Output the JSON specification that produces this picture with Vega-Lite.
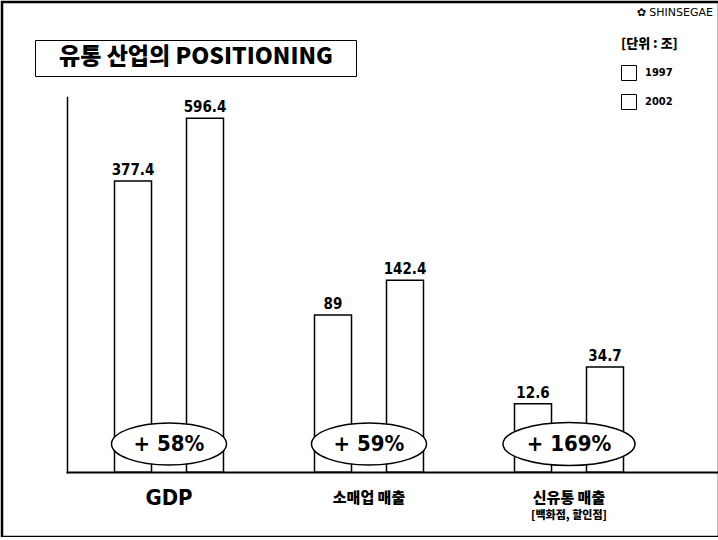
{
  "$schema": "https://vega.github.io/schema/vega-lite/v6.json",
  "autosize": "none",
  "padding": {"left": 2, "top": 2, "right": 0, "bottom": 0},
  "width": 717,
  "height": 535,
  "background": "white",
  "title": {
    "text": "✿ SHINSEGAE",
    "anchor": "end",
    "frame": "group",
    "orient": "top",
    "offset": 0,
    "baseline": "middle",
    "dy": 22,
    "dx": -6,
    "font": "DejaVu Sans",
    "fontSize": 11,
    "fontWeight": "normal",
    "color": "black"
  },
  "datasets": {
    "bars": [
      {"cat": "GDP", "year": "1997", "value": 377.4},
      {"cat": "GDP", "year": "2002", "value": 596.4},
      {"cat": "소매업 매출", "year": "1997", "value": 89},
      {"cat": "소매업 매출", "year": "2002", "value": 142.4},
      {"cat": "신유통 매출", "year": "1997", "value": 12.6},
      {"cat": "신유통 매출", "year": "2002", "value": 34.7}
    ],
    "growth": [
      {"cat": "GDP", "label": "+ 58%"},
      {"cat": "소매업 매출", "label": "+ 59%"},
      {"cat": "신유통 매출", "label": "+ 169%"}
    ],
    "note": [
      {"cat": "신유통 매출", "text": "[백화점, 할인점]"}
    ]
  },
  "layer": [
    {
      "data": {"name": "bars"},
      "mark": {"type": "bar", "stroke": "black", "strokeWidth": 1.5},
      "encoding": {
        "x": {
          "field": "cat", "type": "nominal", "title": null,
          "scale": {"domain": ["GDP", "소매업 매출", "신유통 매출"], "range": [65, 715], "paddingInner": 0, "paddingOuter": 0.125, "align": 0.04},
          "axis": {
            "orient": "bottom", "offset": -65, "domainColor": "black", "domainWidth": 2, "ticks": false, "grid": false,
            "labelAngle": 0, "labelColor": "black", "labelBaseline": "middle", "labelPadding": 25,
            "labelFont": {"condition": {"test": "datum.value === 'GDP'", "value": "DejaVu Sans Condensed, DejaVu Sans, sans-serif"}, "value": "Noto Sans CJK KR"},
            "labelFontSize": {"condition": {"test": "datum.value === 'GDP'", "value": 22}, "value": 15},
            "labelFontWeight": {"condition": {"test": "datum.value === 'GDP'", "value": "bold"}, "value": 900}
          }
        },
        "xOffset": {"field": "year", "type": "nominal", "scale": {"paddingInner": 0.486, "paddingOuter": 0.632}},
        "y": {
          "field": "value", "type": "quantitative", "title": null,
          "scale": {"type": "pow", "exponent": 0.427, "domain": [0, 684], "range": [470, 95], "nice": false, "zero": true},
          "axis": {"orient": "left", "offset": -65, "domainColor": "black", "domainWidth": 1.5, "ticks": false, "labels": false, "grid": false}
        },
        "color": {
          "field": "year", "type": "nominal",
          "scale": {"range": ["white", "white"]},
          "legend": {
            "title": "[단위 : 조]", "orient": "none", "legendX": 619, "legendY": 36, "padding": 0,
            "titleFont": "Noto Sans CJK KR", "titleFontSize": 13, "titleFontWeight": 900, "titleColor": "black", "titlePadding": 14,
            "symbolType": "square", "symbolSize": 225, "symbolStrokeColor": "black", "symbolStrokeWidth": 1, "symbolFillColor": "white",
            "labelFont": "DejaVu Sans Condensed, DejaVu Sans, sans-serif", "labelFontSize": 11, "labelFontWeight": "bold", "labelColor": "black", "labelOffset": 8,
            "rowPadding": 9
          }
        }
      }
    },
    {
      "data": {"name": "bars"},
      "mark": {"type": "text", "baseline": "bottom", "dy": -3, "font": "DejaVu Sans Condensed, DejaVu Sans, sans-serif", "fontSize": 15, "fontWeight": "bold", "color": "black"},
      "encoding": {
        "x": {"field": "cat", "type": "nominal", "title": null},
        "xOffset": {"field": "year", "type": "nominal"},
        "y": {"field": "value", "type": "quantitative", "title": null},
        "text": {"field": "value", "type": "nominal"}
      }
    },
    {
      "data": {"name": "growth"},
      "mark": {"type": "point", "filled": true, "fill": "white", "stroke": "black", "strokeWidth": 1.5, "opacity": 1, "yOffset": -28},
      "encoding": {
        "x": {"field": "cat", "type": "nominal", "title": null},
        "y": {"datum": 0, "type": "quantitative", "title": null},
        "shape": {
          "field": "cat", "type": "nominal",
          "scale": {
            "domain": ["GDP", "소매업 매출", "신유통 매출"],
            "range": [
              "M-1,0A1,0.365,0,1,0,1,0A1,0.365,0,1,0,-1,0Z",
              "M-1,0A1,0.365,0,1,0,1,0A1,0.365,0,1,0,-1,0Z",
              "M-1,0A1,0.326,0,1,0,1,0A1,0.326,0,1,0,-1,0Z"
            ]
          },
          "legend": {
            "title": "유통 산업의 POSITIONING", "orient": "none", "legendX": 33, "legendY": 38,
            "values": ["GDP"], "labelExpr": "''", "symbolOpacity": 0, "symbolStrokeWidth": 0, "symbolSize": 1,
            "labelFontSize": 1, "labelOffset": 308, "padding": 6, "titlePadding": 0,
            "strokeColor": "black", "fillColor": "white",
            "titleFont": "Noto Sans CJK KR", "titleFontSize": 23, "titleFontWeight": 900, "titleColor": "black",
            "titleAnchor": "middle", "titleLimit": 400
          }
        },
        "size": {"condition": {"test": "datum.cat === '신유통 매출'", "value": 17424}, "value": 13225}
      }
    },
    {
      "data": {"name": "growth"},
      "mark": {"type": "text", "baseline": "middle", "align": "center", "dy": -28, "font": "DejaVu Sans Condensed, DejaVu Sans, sans-serif", "fontSize": 22, "fontWeight": "bold", "color": "black"},
      "encoding": {
        "x": {"field": "cat", "type": "nominal", "title": null},
        "y": {"datum": 0, "type": "quantitative", "title": null},
        "text": {"field": "label", "type": "nominal"}
      }
    },
    {
      "data": {"name": "note"},
      "mark": {"type": "text", "baseline": "middle", "align": "center", "dy": 44, "font": "Noto Sans CJK KR", "fontSize": 11, "fontWeight": 900, "color": "black"},
      "encoding": {
        "x": {"field": "cat", "type": "nominal", "title": null},
        "y": {"datum": 0, "type": "quantitative", "title": null},
        "text": {"field": "text", "type": "nominal"}
      }
    }
  ],
  "config": {
    "view": {"stroke": "black", "strokeWidth": 2.5},
    "axis": {"domainCap": "square"}
  }
}
